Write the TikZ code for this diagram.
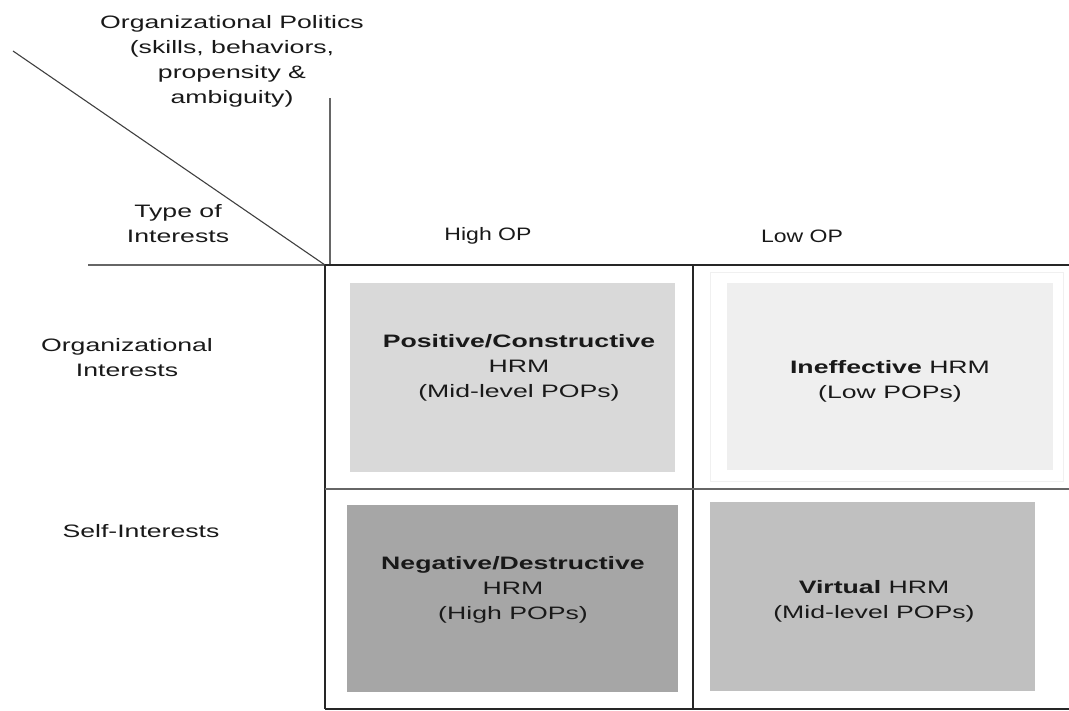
\documentclass[tikz,border=0pt]{standalone}
\usepackage{fontspec}
\setmainfont{Liberation Sans}[FakeStretch=1.48]
\newfontfamily\opfont{Liberation Sans}[FakeStretch=1.28]
\definecolor{pcgray}{HTML}{D9D9D9}
\definecolor{ingray}{HTML}{EFEFEF}
\definecolor{ndgray}{HTML}{A6A6A6}
\definecolor{vigray}{HTML}{C0C0C0}
\begin{document}
\begin{tikzpicture}[x=1pt,y=-1pt,
  lbl/.style={font=\fontsize{18}{25}\selectfont, align=center, inner sep=0pt, text=black!90},
  toplbl/.style={font=\opfont\fontsize{18}{25}\selectfont, inner sep=0pt, text=black!90},
  cellbox/.style={draw=none, inner sep=0pt, anchor=north west},
  gridline/.style={line width=1.6pt, draw=black!85},
  midline/.style={line width=1.3pt, draw=black!60},
  guide/.style={line width=1.1pt, draw=black!60},
]
\useasboundingbox (0,0) rectangle (1069,711);

% coloured cells
\draw[black!6, line width=0.8pt] (710,272) rectangle (1063,481);
\node[cellbox, fill=pcgray, minimum width=325pt, minimum height=189pt] (pc) at (350,283) {};
\node[cellbox, fill=ingray, minimum width=326pt, minimum height=187pt] (ie) at (727,283) {};
\node[cellbox, fill=ndgray, minimum width=331pt, minimum height=187pt] (nd) at (347,505) {};
\node[cellbox, fill=vigray, minimum width=325pt, minimum height=189pt] (vi) at (710,502) {};

% grid coordinates
\coordinate (tl) at (325,265);
\coordinate (tm) at (693,265);
\coordinate (tr) at (1069,265);
\coordinate (ml) at (325,489);
\coordinate (mr) at (1069,489);
\coordinate (bl) at (325,709);
\coordinate (bm) at (693,709);
\coordinate (br) at (1069,709);
\coordinate (hs) at (88,265);
\coordinate (vs) at (330,98);
\coordinate (vb) at (330,265);
\coordinate (ds) at (13,51);

% header guides
\draw[guide] (hs) -- (tl);
\draw[guide] (vs) -- (vb);
\draw[guide, draw=black!75] (ds) -- (tl);

% grid
\draw[gridline] (tl) -- (tr);
\draw[gridline] (tl) -- (bl);
\draw[gridline] (tm) -- (bm);
\draw[midline] (ml) -- (mr);
\draw[gridline, line width=1.2pt] (bl) -- (br);

% header labels
\node[lbl] (op) at (232,61) {Organizational Politics\\(skills, behaviors,\\propensity \&\\ambiguity)};
\node[lbl] (ti) at (178,224) {Type of\\Interests};
\node[toplbl] (hop) at (488,236) {High OP};
\node[toplbl] (lop) at (802,236) {Low OP};
\node[lbl] (oi) at (127,358) {Organizational\\Interests};
\node[lbl] (si) at (141,531) {Self-Interests};

% cell texts
\node[lbl] (pct) at (519,368) {\textbf{Positive/Constructive}\\HRM\\(Mid-level POPs)};
\node[lbl] (iet) at (890,381) {\textbf{Ineffective} HRM\\(Low POPs)};
\node[lbl] (ndt) at (513,590) {\textbf{Negative/Destructive}\\HRM\\(High POPs)};
\node[lbl] (vit) at (874,601) {\textbf{Virtual} HRM\\(Mid-level POPs)};
\end{tikzpicture}
\end{document}
